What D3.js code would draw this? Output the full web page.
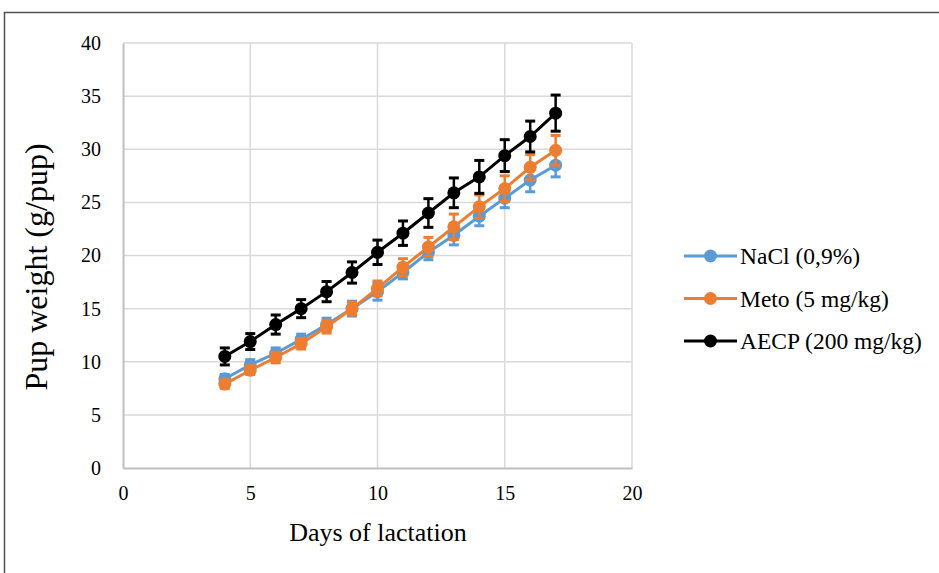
<!DOCTYPE html>
<html><head><meta charset="utf-8">
<script src="https://cdn.jsdelivr.net/npm/d3@7"></script>
<style>body{margin:0;background:#fff}svg{display:block}</style>
</head><body>
<svg id="c" width="939" height="573"></svg>
<script>
const days = [4,5,6,7,8,9,10,11,12,13,14,15,16,17];
const nacl = [8.4,9.7,10.8,12.1,13.5,15.0,16.6,18.4,20.3,21.9,23.7,25.4,27.1,28.5];
const naclErr = [0.4,0.5,0.5,0.5,0.6,0.7,0.8,0.6,0.7,0.9,0.9,0.9,1.1,1.1];
const meto = [7.9,9.2,10.4,11.7,13.3,15.0,16.9,18.9,20.8,22.7,24.6,26.3,28.3,29.9];
const metoErr = [0.4,0.4,0.5,0.5,0.6,0.6,0.7,0.8,0.9,1.2,1.1,1.2,1.2,1.4];
const aecp = [10.5,11.9,13.5,15.0,16.6,18.4,20.3,22.1,24.0,25.9,27.4,29.4,31.2,33.4];
const aecpErr = [0.8,0.75,0.9,0.85,0.95,1.0,1.15,1.15,1.35,1.4,1.55,1.5,1.45,1.7];
const seriesNames = ["NaCl (0,9%)","Meto (5 mg/kg)","AECP (200 mg/kg)"];
const seriesColors = ["#5B9BD5","#ED7D31","#000000"];
const xTicks = [0,5,10,15,20];
const yTicks = [0,5,10,15,20,25,30,35,40];
const xTitle = "Days of lactation";
const yTitle = "Pup weight (g/pup)";

const series = [
  {name:seriesNames[0], color:seriesColors[0], vals:nacl, err:naclErr},
  {name:seriesNames[1], color:seriesColors[1], vals:meto, err:metoErr},
  {name:seriesNames[2], color:seriesColors[2], vals:aecp, err:aecpErr}
];

const svg = d3.select("#c");
const font = "'Liberation Serif','Times New Roman',serif";

// outer frame
svg.append("path").attr("d","M4.5,573 L4.5,12.5 L939,12.5")
  .attr("fill","none").attr("stroke","#505050").attr("stroke-width",1.5);

const x = d3.scaleLinear().domain([0,20]).range([123,632]);
const y = d3.scaleLinear().domain([0,40]).range([468,43]);

// gridlines
svg.append("g").selectAll("line").data(yTicks.filter(d=>d>0)).join("line")
  .attr("x1",x(0)).attr("x2",x(20)).attr("y1",d=>y(d)).attr("y2",d=>y(d))
  .attr("stroke","#D9D9D9").attr("stroke-width",1.5);
svg.append("g").selectAll("line").data(xTicks.filter(d=>d>0)).join("line")
  .attr("y1",y(0)).attr("y2",y(40)).attr("x1",d=>x(d)).attr("x2",d=>x(d))
  .attr("stroke","#D9D9D9").attr("stroke-width",1.5);

// axes
const xAxis = svg.append("g").attr("transform",`translate(0,${y(0)})`)
  .call(d3.axisBottom(x).tickValues(xTicks).tickSize(0).tickPadding(18));
const yAxis = svg.append("g").attr("transform",`translate(${x(0)},0)`)
  .call(d3.axisLeft(y).tickValues(yTicks).tickSize(0).tickPadding(22));
[xAxis,yAxis].forEach(a=>{
  a.attr("font-family",font);
  a.select(".domain").attr("stroke","#BFBFBF").attr("stroke-width",2);
  a.selectAll("text").style("font-family",font).attr("font-size",20).attr("fill","#000");
});

// titles
svg.append("text").attr("x",378).attr("y",541).attr("text-anchor","middle")
  .style("font-family",font).attr("font-size",26).attr("fill","#000").text(xTitle);
svg.append("text").attr("transform","translate(47,267) rotate(-90)").attr("text-anchor","middle")
  .style("font-family",font).attr("font-size",32).attr("fill","#000").text(yTitle);

const line = d3.line().x((d,i)=>x(days[i])).y(d=>y(d));

series.forEach(s=>{
  const g = svg.append("g");
  g.append("path").datum(s.vals).attr("d",line).attr("fill","none")
    .attr("stroke",s.color).attr("stroke-width",3);
  const eb = g.append("g").selectAll("g").data(s.vals).join("g");
  eb.append("line").attr("x1",(d,i)=>x(days[i])).attr("x2",(d,i)=>x(days[i]))
    .attr("y1",(d,i)=>y(d+s.err[i])).attr("y2",(d,i)=>y(d-s.err[i]))
    .attr("stroke",s.color).attr("stroke-width",2.5);
  [1,-1].forEach(sg=>{
    eb.append("line").attr("x1",(d,i)=>x(days[i])-5).attr("x2",(d,i)=>x(days[i])+5)
      .attr("y1",(d,i)=>y(d+sg*s.err[i])).attr("y2",(d,i)=>y(d+sg*s.err[i]))
      .attr("stroke",s.color).attr("stroke-width",3);
  });
  g.append("g").selectAll("circle").data(s.vals).join("circle")
    .attr("cx",(d,i)=>x(days[i])).attr("cy",d=>y(d)).attr("r",6.5).attr("fill",s.color);
});

// legend
const lg = svg.append("g");
series.forEach((s,k)=>{
  const yy = 256 + k*42.5;
  lg.append("line").attr("x1",684).attr("x2",737).attr("y1",yy).attr("y2",yy)
    .attr("stroke",s.color).attr("stroke-width",3);
  lg.append("circle").attr("cx",710.5).attr("cy",yy).attr("r",6.5).attr("fill",s.color);
  lg.append("text").attr("x",740).attr("y",yy).attr("dy","0.35em")
    .style("font-family",font).attr("font-size",23.5).attr("fill","#000").text(s.name);
});
</script>
</body></html>
